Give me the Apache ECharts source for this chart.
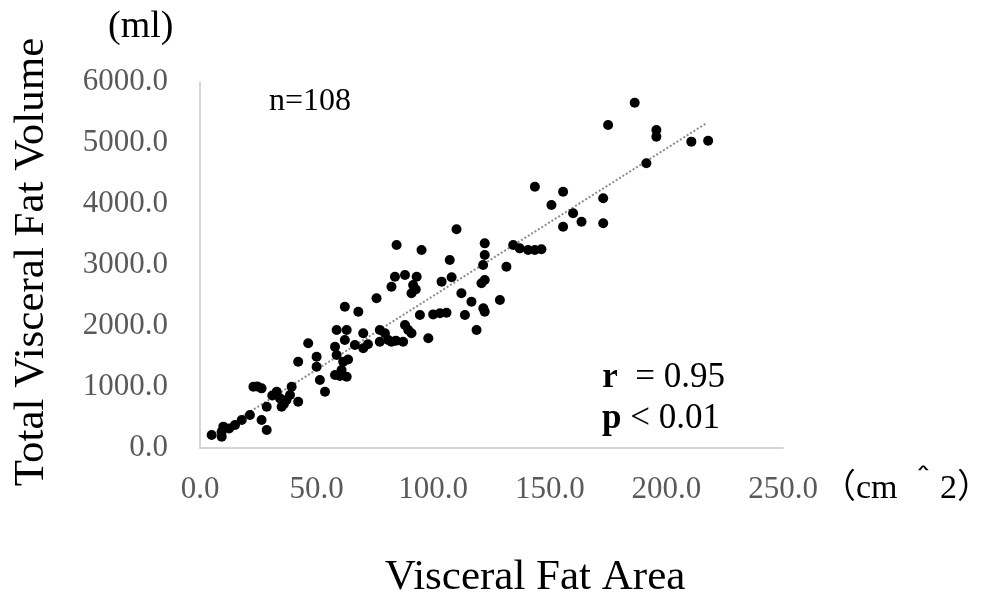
<!DOCTYPE html>
<html>
<head>
<meta charset="utf-8">
<script src="https://cdn.jsdelivr.net/npm/echarts@6/dist/echarts.min.js"></script>
<style>
html, body { margin:0; padding:0; background:#fff; }
#scatterChart { width:981px; height:606px; }
</style>
</head>
<body>
<div id="scatterChart"></div>
<script>
// Visceral fat area (cm^2) vs total visceral fat volume (ml)
var areaData = [
	5.0, 9.3, 10, 9.3, 15, 17.9, 21.4, 26.4, 28.6, 22.9, 26.4, 28.6, 32.9, 35, 34.3, 37.1, 38.6, 39.3, 42.1, 42.1,
	46.4, 50, 50, 51.4, 53.6, 57.9, 57.9,
	58.6, 62.9, 62.1, 67.9, 75.7, 82.1, 91.4, 90.7, 103.6, 94.3, 102.9, 70, 77.1, 79.3, 87.9, 89.3, 90.7, 97.9,
	62.1, 66.4, 70, 77.1, 80.7, 82.1, 87.1, 58.6, 61.4, 62.9, 60.7,
	110, 84.3, 95, 122.1, 122.1, 107.1, 121.4, 83.6, 87.9, 92.9, 107.9, 122.1, 120.7, 112.1, 116.4, 128.6,
	105.7, 113.6, 122.1, 118.6,
	131.4, 134.3, 137.1, 140.7, 143.6, 146.4, 143.6, 150.7, 155.7, 155.7, 160, 163.6, 172.9, 172.9, 175,
	186.4, 191.4, 195.7, 195.7, 210.7, 217.9,
	12.5, 24.6, 36, 31, 60, 63.5, 72, 84, 92.5, 100, 121.5
];
var volumeData = [
	213, 267, 350, 186, 377, 459, 541, 459, 295, 1005, 978, 677, 923, 677, 814, 787, 869, 1005, 759, 1415,
	1716, 1497, 1333, 1115, 923, 1661, 1197,
	1934, 1934, 2316, 2235, 2454, 2644, 2672, 2536, 2727, 2180, 2208, 1880, 1934, 1880, 2016, 1934, 1880, 1798,
	1770, 1689, 1634, 1743, 1770, 1743, 1743, 1525, 1415, 1169, 1279,
	3585, 3328, 3246, 3355, 3164, 3082, 3000, 2808, 2836, 2808, 2800, 2754, 2700, 2536, 2398, 2426,
	2218, 2180, 2235, 1934,
	2972, 3328, 3273, 3246, 3246, 3257, 4284, 3984, 4202, 3628, 3847, 3710, 4093, 3683, 5295,
	5661, 4667, 5213, 5104, 5022, 5038,
	320, 1010, 720, 860, 1180, 1450, 1700, 1760, 2600, 2190, 2290
];
// dotted trend line, end points
var trendArea = [4.3, 217.3];
var trendVolume = [180, 5328];

var serif = "'Liberation Serif', 'Times New Roman', 'Noto Sans CJK JP', serif";

var points = [];
for (var i = 0; i < areaData.length; i++) {
	points.push([areaData[i], volumeData[i]]);
}
var trend = [];
for (var i = 0; i < trendArea.length; i++) {
	trend.push([trendArea[i], trendVolume[i]]);
}

var scatterChart = echarts.init(document.getElementById("scatterChart"));

var option = {
	backgroundColor : "#FFF",
	animation : false,
	grid : {
		left : 200,
		right : 198,
		top : 82,
		bottom : 158
	},
	xAxis : {
		type : 'value',
		min : 0,
		max : 250,
		interval : 50,
		axisLine : { show : true, lineStyle : { color : '#c8c8c8', width : 1.5 } },
		axisTick : { show : false },
		splitLine : { show : false },
		axisLabel : {
			margin : 26,
			color : '#595959',
			fontFamily : serif,
			fontSize : 31,
			formatter : function(v) { return v.toFixed(1); }
		}
	},
	yAxis : {
		type : 'value',
		min : 0,
		max : 6000,
		interval : 1000,
		axisLine : { show : true, lineStyle : { color : '#c8c8c8', width : 1.5 } },
		axisTick : { show : false },
		splitLine : { show : false },
		axisLabel : {
			margin : 32,
			color : '#595959',
			fontFamily : serif,
			fontSize : 31,
			formatter : function(v) { return v.toFixed(1); }
		}
	},
	series : [
		{
			type : 'line',
			data : trend,
			symbol : 'none',
			silent : true,
			lineStyle : { color : '#8c8c8c', width : 2, type : [2, 2] },
			z : 1
		},
		{
			type : 'scatter',
			data : points,
			symbolSize : 10,
			itemStyle : { color : '#000', opacity : 1 },
			z : 2
		}
	],
	graphic : [
		{ type : 'text', left : 108, top : 8, style : { text : '(ml)', fill : '#000', font : '38px ' + serif } },
		{ type : 'text', x : 32, y : 262, rotation : Math.PI / 2,
			style : { text : 'Total Visceral Fat Volume', fill : '#000', font : '43px ' + serif, align : 'center', verticalAlign : 'middle' } },
		{ type : 'text', x : 535, y : 578,
			style : { text : 'Visceral Fat Area', fill : '#000', font : '43px ' + serif, align : 'center', verticalAlign : 'middle' } },
		{ type : 'text', x : 822, y : 489,
			style : { text : '（cm ＾2）', fill : '#000', font : '34px ' + serif, align : 'left', verticalAlign : 'middle' } },
		{ type : 'text', x : 310, y : 102,
			style : { text : 'n=108', fill : '#000', font : '32px ' + serif, align : 'center', verticalAlign : 'middle' } },
		{ type : 'text', x : 725, y : 378,
			style : { text : '{b|r}  = 0.95', align : 'right', verticalAlign : 'middle',
				fill : '#000', font : '35px ' + serif,
				rich : { b : { fill : '#000', font : 'bold 35px ' + serif } } } },
		{ type : 'text', x : 720, y : 419,
			style : { text : '{b|p} < 0.01', align : 'right', verticalAlign : 'middle',
				fill : '#000', font : '35px ' + serif,
				rich : { b : { fill : '#000', font : 'bold 35px ' + serif } } } }
	]
};

scatterChart.setOption(option);
</script>
</body>
</html>
